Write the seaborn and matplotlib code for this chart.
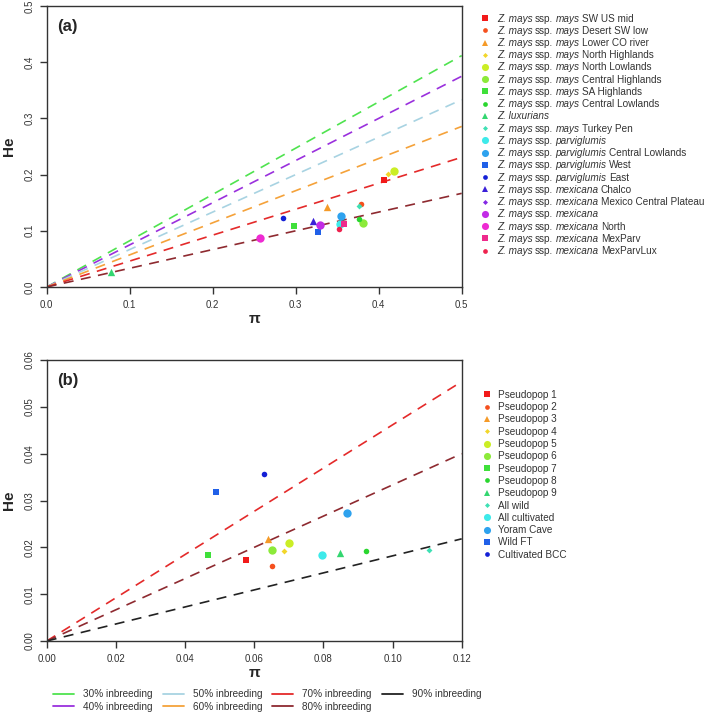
import matplotlib
matplotlib.use("Agg")
import matplotlib.pyplot as plt
from matplotlib.lines import Line2D
from matplotlib.offsetbox import (AnchoredOffsetbox, DrawingArea, HPacker, TextArea,
                                  VPacker)
import seaborn as sns
import pandas as pd

sns.set_style("white")
plt.rcParams['font.family'] = ['Liberation Sans', 'DejaVu Sans']

# ---------------- data ----------------
# rainbow palette (as in the figure)
rainbow20 = ["#F21A1A", "#F5501E", "#F59A28", "#F2D62A", "#CBEE26", "#8CEA3A",
             "#3FE03A", "#2AD62F", "#33D670", "#3EE0B4", "#3EEAEA", "#2EA2EE",
             "#2060E8", "#1420D6", "#3A20D8", "#8428E4", "#C22BE6", "#EE2BD2",
             "#EE2A8C", "#EE224E"]
marker_cycle = ["s", "o_small", "^", "D", "o_big", "o_big"]

# legend labels of panel (a): (subspecies / taxon in italics, population in roman)
taxon_a = ["mays", "mays", "mays", "mays", "mays", "mays", "mays", "mays", "luxurians",
           "mays", "parviglumis", "parviglumis", "parviglumis", "parviglumis",
           "mexicana", "mexicana", "mexicana", "mexicana", "mexicana", "mexicana"]
pop_a = ["SW US mid", "Desert SW low", "Lower CO river", "North Highlands",
         "North Lowlands", "Central Highlands", "SA Highlands", "Central Lowlands", "",
         "Turkey Pen", "", "Central Lowlands", "West", "East", "Chalco",
         "Mexico Central Plateau", "", "North", "MexParv", "MexParvLux"]
pi_a = [0.4068, 0.3790, 0.3377, 0.4116, 0.4180, 0.3810, 0.2976, 0.3767, 0.0779, 0.3763,
        0.3534, 0.3546, 0.3269, 0.2847, 0.3205, 0.3280, 0.3293, 0.2566, 0.3582, 0.3522]
he_a = [0.1904, 0.1477, 0.1430, 0.2005, 0.2064, 0.1133, 0.1085, 0.1210, 0.0260, 0.1447,
        0.1127, 0.1263, 0.0985, 0.1228, 0.1180, 0.1100, 0.1097, 0.0877, 0.1115, 0.1038]

labels_b = ["Pseudopop 1", "Pseudopop 2", "Pseudopop 3", "Pseudopop 4", "Pseudopop 5",
            "Pseudopop 6", "Pseudopop 7", "Pseudopop 8", "Pseudopop 9", "All wild",
            "All cultivated", "Yoram Cave", "Wild FT", "Cultivated BCC"]
pi_b = [0.0576, 0.0650, 0.0640, 0.0687, 0.0701, 0.0651, 0.0467, 0.0922, 0.0848, 0.1106,
        0.0795, 0.0869, 0.0490, 0.0629]
he_b = [0.0173, 0.0161, 0.0218, 0.0192, 0.0210, 0.0194, 0.0183, 0.0192, 0.0187, 0.0194,
        0.0184, 0.0274, 0.0319, 0.0357]

inbreed_labels = ["30% inbreeding", "40% inbreeding", "50% inbreeding", "60% inbreeding",
                  "70% inbreeding", "80% inbreeding", "90% inbreeding"]
inbreed_slopes = [0.8235, 0.75, 0.6667, 0.5714, 0.4615, 0.3333, 0.1818]
inbreed_colors = ["#4FE34F", "#9A30DD", "#A8D3E2", "#F5A23A", "#E42A2A", "#8E2A30", "#222222"]
lines_a = [0, 1, 2, 3, 4, 5]
lines_b = [4, 5, 6]

marker_map = {"s": ("s", 24), "o_small": ("o", 16), "^": ("^", 28),
              "D": ("D", 9), "o_big": ("o", 36)}
TXT = "#333333"
FS = 7.2

# ---------------- figure ----------------
fig = plt.figure(figsize=(7.09, 7.12), dpi=100)
ax_a = fig.add_axes([0.0659, 0.5969, 0.5853, 0.3947])
ax_b = fig.add_axes([0.0659, 0.0997, 0.5853, 0.3947])


def draw_panel(ax, xmax, ymax, line_idx, xs, ys, xticks, yticks, fmt, tag):
    for i in line_idx:
        df = pd.DataFrame({"x": [0.0, xmax], "y": [0.0, inbreed_slopes[i] * xmax]})
        sns.lineplot(data=df, x="x", y="y", ax=ax, color=inbreed_colors[i],
                     linewidth=1.2, linestyle=(0, (6, 4.5)), legend=False)
    handles = []
    for k, (x, y) in enumerate(zip(xs, ys)):
        mk, s = marker_map[marker_cycle[k % 6]]
        col = rainbow20[k]
        sns.scatterplot(x=[x], y=[y], ax=ax, color=col, marker=mk, s=s,
                        linewidth=0, legend=False, zorder=5)
        handles.append((mk, (s ** 0.5) * 0.85, col))
    ax.set_xlim(0, xmax)
    ax.set_ylim(0, ymax)
    ax.set_xticks(xticks)
    ax.set_yticks(yticks)
    ax.set_xticklabels([fmt.format(v) for v in xticks], fontsize=7, color=TXT)
    ax.set_yticklabels([fmt.format(v) for v in yticks], fontsize=7, color=TXT,
                       rotation=90, va="center")
    ax.tick_params(axis="both", direction="out", length=5, width=1, color=TXT,
                   bottom=True, left=True, pad=4)
    for sp in ax.spines.values():
        sp.set_visible(True)
        sp.set_color(TXT)
        sp.set_linewidth(1.0)
    ax.set_xlabel("π", fontsize=11, fontweight="bold", labelpad=2)
    ax.set_ylabel("He", fontsize=11, fontweight="bold", labelpad=6)
    ax.text(0.025, 0.955, tag, transform=ax.transAxes, fontsize=12, fontweight="bold",
            ha="left", va="top")
    return handles


def marker_box(mk, ms, col):
    da = DrawingArea(10, 7, xdescent=0, ydescent=2)
    da.add_artist(Line2D([5], [2.5], linestyle="none", marker=mk, color=col,
                         markeredgewidth=0, markersize=ms))
    return da


def piece(txt, italic=False):
    return TextArea(txt, textprops=dict(fontsize=FS, color=TXT,
                                        fontstyle="italic" if italic else "normal"))


# panel (a)
h_a = draw_panel(ax_a, 0.5, 0.5, lines_a, pi_a, he_a,
                 [0.0, 0.1, 0.2, 0.3, 0.4, 0.5], [0.0, 0.1, 0.2, 0.3, 0.4, 0.5],
                 "{:.1f}", "(a)")
rows = []
for (mk, ms, col), tax, pop in zip(h_a, taxon_a, pop_a):
    if tax == "luxurians":
        parts = [piece("Z. luxurians", True)]
    else:
        parts = [piece("Z. mays", True), piece("ssp."), piece(tax, True)]
        if pop:
            parts.append(piece(pop))
    txt = HPacker(children=parts, align="baseline", pad=0, sep=1.7)
    rows.append(HPacker(children=[marker_box(mk, ms, col), txt], align="baseline",
                        pad=0, sep=3.6))
vp = VPacker(children=rows, align="left", pad=0, sep=1.05)
anch = AnchoredOffsetbox(loc="upper left", child=vp, pad=0, borderpad=0, frameon=False,
                         bbox_to_anchor=(0.674, 0.981), bbox_transform=fig.transFigure)
fig.add_artist(anch)

# panel (b)
h_b = draw_panel(ax_b, 0.12, 0.06, lines_b, pi_b, he_b,
                 [0.0, 0.02, 0.04, 0.06, 0.08, 0.10, 0.12],
                 [0.0, 0.01, 0.02, 0.03, 0.04, 0.05, 0.06], "{:.2f}", "(b)")
leg_h = [Line2D([], [], linestyle="none", marker=mk, color=col, markeredgewidth=0,
                markersize=ms) for mk, ms, col in h_b]
leg = ax_b.legend(leg_h, labels_b, loc="upper left", bbox_to_anchor=(1.035, 0.915),
                  frameon=False, fontsize=FS, handlelength=1.0, handletextpad=0.6,
                  labelspacing=0.23, borderaxespad=0.2)
for t in leg.get_texts():
    t.set_color(TXT)

# bottom legend of inbreeding lines
line_handles = [Line2D([], [], color=c, linewidth=1.3) for c in inbreed_colors]
fleg = fig.legend(line_handles, inbreed_labels, loc="lower center",
                  bbox_to_anchor=(0.377, -0.012), ncol=4, frameon=False, fontsize=FS,
                  handlelength=2.1, handletextpad=0.9, columnspacing=1.0,
                  labelspacing=0.25)
for t in fleg.get_texts():
    t.set_color(TXT)

fig.savefig("out.png", dpi=100)
